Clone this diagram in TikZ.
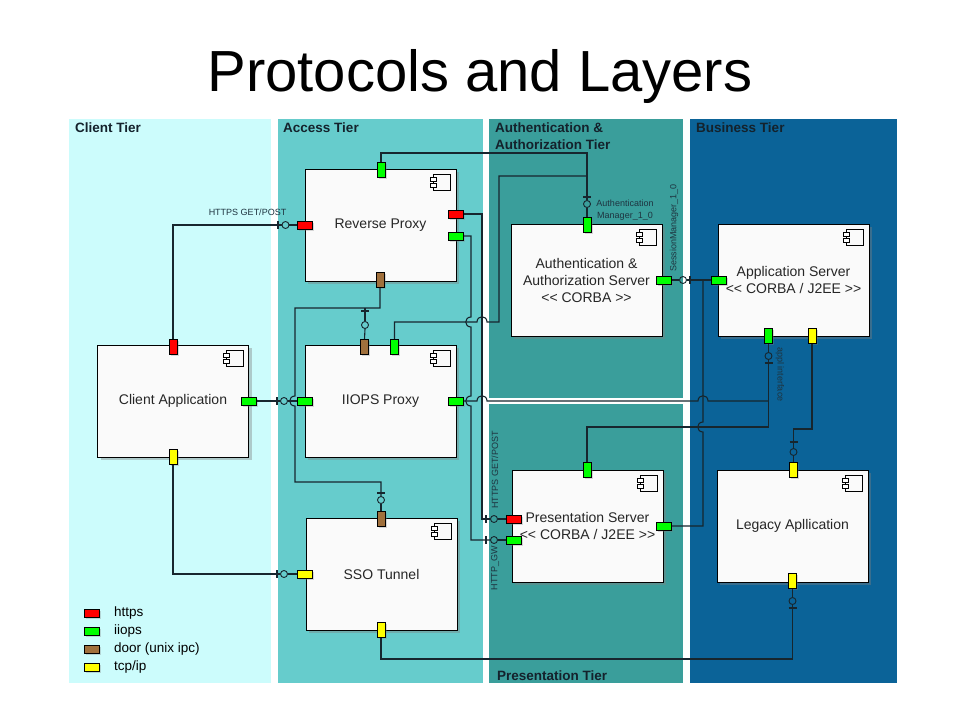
\documentclass[tikz,border=0pt]{standalone}
\usepackage{fontspec}
\setmainfont{Liberation Sans}
\usetikzlibrary{shadows}
\definecolor{clientc}{HTML}{CCFCFC}
\definecolor{accessc}{HTML}{66CCCC}
\definecolor{authc}{HTML}{3A9E9B}
\definecolor{busc}{HTML}{0B6398}
\definecolor{linec}{HTML}{17262E}
\definecolor{tierlab}{HTML}{14222C}
\definecolor{smallc}{HTML}{1E3440}
\definecolor{httpsc}{HTML}{FF0000}
\definecolor{iiopsc}{HTML}{00FF00}
\definecolor{doorc}{HTML}{A0703C}
\definecolor{tcpc}{HTML}{FFFF00}
\newcommand\compicon[1]{%
  \draw[line width=0.7pt] ([shift={(-23,6)}]#1.north east) rectangle ([shift={(-6,22)}]#1.north east);
  \draw[line width=0.7pt, fill=white] ([shift={(-26,9)}]#1.north east) rectangle ([shift={(-20,13)}]#1.north east);
  \draw[line width=0.7pt, fill=white] ([shift={(-26,15)}]#1.north east) rectangle ([shift={(-20,19)}]#1.north east);
}
\begin{document}
\begin{tikzpicture}[x=1pt,y=-1pt,
 comp/.style={draw=black, line width=1pt, fill=white!98!black, minimum width=151pt, minimum height=112pt, inner sep=0pt, align=center, font=\fontsize{14}{17}\selectfont, text=black!85, drop shadow={shadow xshift=3pt,shadow yshift=-3pt,opacity=0.4}},
 ph/.style={draw=black, line width=0.6pt, minimum width=15pt, minimum height=8pt, inner sep=0pt, drop shadow={shadow xshift=1.5pt,shadow yshift=-1.5pt,opacity=0.3}},
 pv/.style={ph, minimum width=8pt, minimum height=15pt},
 ball/.style={circle, draw=linec, line width=0.9pt, minimum size=7pt, inner sep=0pt},
 conn/.style={draw=linec, line width=1.1pt},
 tierlabel/.style={font=\fontsize{13.5}{16}\selectfont\bfseries, text=tierlab, anchor=base west, inner sep=0pt},
 small/.style={font=\fontsize{9}{11.5}\selectfont, text=smallc, inner sep=0pt},
 legtext/.style={font=\fontsize{13.5}{16}\selectfont, anchor=west, inner sep=0pt},
]
\useasboundingbox (0,0) rectangle (960,720);
\fill[white] (0,0) rectangle (960,720);
% tiers
\fill[clientc] (69,119) rectangle (271,683);
\fill[accessc] (278,119) rectangle (483,683);
\fill[authc] (489,119) rectangle (683,398);
\fill[authc] (489,404) rectangle (683,683);
\fill[busc] (690,119) rectangle (897,683);
\node[tierlabel] (tc) at (75,132.5) {Client Tier};
\node[tierlabel] (ta) at (283,132.5) {Access Tier};
\node[tierlabel] (tau1) at (495,132.5) {Authentication \&};
\node[tierlabel] (tau2) at (495,149) {Authorization Tier};
\node[tierlabel] (tb) at (696,132.5) {Business Tier};
\node[tierlabel] (tp) at (497,680.5) {Presentation Tier};
% title
\node[font=\fontsize{58}{60}\selectfont, anchor=base, inner sep=0pt] (title) at (480,91) {Protocols and Layers};
% components
\node[comp] (rp) at (380.5,225) {Reverse Proxy};
\node[comp] (ip) at (380.5,401) {IIOPS Proxy};
\node[comp] (sso) at (381.5,574) {SSO Tunnel};
\node[comp] (ca) at (173,401) {Client Application};
\node[comp] (as) at (586.5,280) {Authentication \&\\Authorization Server\\<{}< CORBA >{}>};
\node[comp] (ps) at (587.5,526) {Presentation Server\\<{}< CORBA / J2EE >{}>};
\node[comp] (aps) at (793.5,280) {Application Server\\<{}< CORBA / J2EE >{}>};
\node[comp] (la) at (792.5,526) {Legacy Apllication};
\compicon{rp}\compicon{ip}\compicon{sso}\compicon{ca}
\compicon{as}\compicon{ps}\compicon{aps}\compicon{la}
% ports
\node[pv, fill=iiopsc] (rpT) at (381,169.5) {};
\node[ph, fill=httpsc] (rpL) at (305,225) {};
\node[ph, fill=httpsc] (rpR1) at (456,214) {};
\node[ph, fill=iiopsc] (rpR2) at (456,236) {};
\node[pv, fill=doorc] (rpB) at (380,280) {};
\node[pv, fill=doorc] (ipT1) at (364.5,347) {};
\node[pv, fill=iiopsc] (ipT2) at (394.5,347) {};
\node[ph, fill=iiopsc] (ipL) at (305,401) {};
\node[ph, fill=iiopsc] (ipR) at (456,401) {};
\node[pv, fill=httpsc] (caT) at (173,347) {};
\node[ph, fill=iiopsc] (caR) at (249,401) {};
\node[pv, fill=tcpc] (caB) at (173,457) {};
\node[pv, fill=doorc] (ssoT) at (381,519) {};
\node[ph, fill=tcpc] (ssoL) at (305,574) {};
\node[pv, fill=tcpc] (ssoB) at (381,630) {};
\node[pv, fill=iiopsc] (asT) at (587,225) {};
\node[ph, fill=iiopsc] (asR) at (664,280) {};
\node[ph, fill=iiopsc] (apsL) at (719,280) {};
\node[pv, fill=iiopsc] (apsB1) at (768.5,336) {};
\node[pv, fill=tcpc] (apsB2) at (812,336) {};
\node[pv, fill=iiopsc] (psT) at (587,470) {};
\node[ph, fill=httpsc] (psL1) at (514,519) {};
\node[ph, fill=iiopsc] (psL2) at (514,540) {};
\node[ph, fill=iiopsc] (psR) at (664,526) {};
\node[pv, fill=tcpc] (laT) at (793.5,470) {};
\node[pv, fill=tcpc] (laB) at (792.5,581) {};
% balls
\node[ball] (b1) at (285.5,225) {};
\node[ball] (b2) at (284,401) {};
\node[ball] (b3) at (284,574) {};
\node[ball] (b4) at (587,204) {};
\node[ball] (b5) at (381,500) {};
\node[ball] (b6) at (365,325) {};
\node[ball] (b7) at (494,519) {};
\node[ball] (b8) at (494,540) {};
\node[ball] (b9) at (768.5,356) {};
\node[ball] (b10) at (683,280) {};
\node[ball] (b11) at (793.5,452) {};
\node[ball] (b12) at (792.5,601) {};
% 1 client https -> reverse proxy
\draw[conn] (caT.north) |- (278,225) -- (b1.west);
\draw[conn] (278,221) -- (278,229);
\draw[conn] (b1.east) -- (rpL.west);
\node[small] (lhttps) at (247.5,212) {HTTPS GET/POST};
% 2 client iiops -> iiops proxy
\draw[conn] (caR.east) -- (b2.west);
\draw[conn] (277,397) -- (277,405);
\draw[conn] (b2.east) -- (ipL.west);
% 3 client tcp -> sso
\draw[conn] (caB.south) |- (b3.west);
\draw[conn] (277,570) -- (277,578);
\draw[conn] (b3.east) -- (ssoL.west);
% 4 reverse proxy -> auth manager
\draw[conn] (rpT.north) |- (587,153) -- (b4.north);
\draw[conn] (583,197) -- (591,197);
\draw[conn] (b4.south) -- (asT.north);
\node[small, align=center] (lam) at (625,210) {Authentication\\Manager\_1\_0};
\draw[conn] (ipT2.north) |- (477,322) .. controls (477,315) and (487,315) .. (487,322) -| (499,176) -- (587,176);
% 5 door
\draw[conn] (rpB.south) |- (295,308) -- (295,396) .. controls (288,396) and (288,406) .. (295,406) |- (381,482) -- (b5.north);
\draw[conn] (377,493) -- (385,493);
\draw[conn] (b5.south) -- (ssoT.north);
\draw[conn] (365,308) -- (b6.north);
\draw[conn] (361,311) -- (369,311);
\draw[conn] (b6.south) -- (ipT1.north);
% 6 reverse proxy -> presentation server
\draw[conn] (rpR1.east) -| (482,519) -- (b7.west);
\draw[conn] (486,515) -- (486,523);
\draw[conn] (b7.east) -- (psL1.west);
\draw[conn] (rpR2.east) -| (471,317) .. controls (464,317) and (464,327) .. (471,327) -- (471,396) .. controls (464,396) and (464,406) .. (471,406) |- (b8.west);
\draw[conn] (486,536) -- (486,544);
\draw[conn] (b8.east) -- (psL2.west);
\node[small, rotate=90] (lhttps2) at (495,470) {HTTPS GET/POST};
\node[small, rotate=90] (lgw) at (495,568) {HTTP\_GW};
% 7 iiops proxy -> appl interface
\draw[conn] (ipR.east) -- (477,401) .. controls (477,394) and (487,394) .. (487,401) -- (698,401) .. controls (698,394) and (708,394) .. (708,401) -- (768.5,401);
\draw[conn] (apsB1.south) -- (b9.north);
\draw[conn] (b9.south) -- (768.5,427);
\draw[conn] (764.5,363) -- (772.5,363);
\draw[conn] (psT.north) |- (768.5,427);
\node[small, rotate=-90] (lappl) at (780,374.5) {appl interface};
% 8 session manager
\draw[conn] (asR.east) -- (b10.west);
\draw[conn] (b10.east) -- (apsL.west);
\draw[conn] (690,276) -- (690,284);
\draw[conn] (703,280) -- (703,422) .. controls (696,422) and (696,432) .. (703,432) |- (psR.east);
\node[small, rotate=90] (lsm) at (674,228) {SessionManager\_1\_0};
% 9 app server tcp -> legacy
\draw[conn] (apsB2.south) |- (793.5,429) -- (b11.north);
\draw[conn] (789.5,442) -- (797.5,442);
\draw[conn] (b11.south) -- (laT.north);
% 10 legacy -> sso
\draw[conn] (laB.south) -- (b12.north);
\draw[conn] (b12.south) -- (792.5,608) |- (381,659) -- (ssoB.south);
\draw[conn] (788.5,608) -- (796.5,608);
% legend
\node[ph, fill=httpsc] (lg1) at (91.5,613) {};
\node[ph, fill=iiopsc] (lg2) at (91.5,631) {};
\node[ph, fill=doorc] (lg3) at (91.5,649) {};
\node[ph, fill=tcpc] (lg4) at (91.5,667) {};
\node[legtext] (lt1) at (114,613) {https};
\node[legtext] (lt2) at (114,631) {iiops};
\node[legtext] (lt3) at (114,649) {door (unix ipc)};
\node[legtext] (lt4) at (114,667) {tcp/ip};
\end{tikzpicture}
\end{document}
